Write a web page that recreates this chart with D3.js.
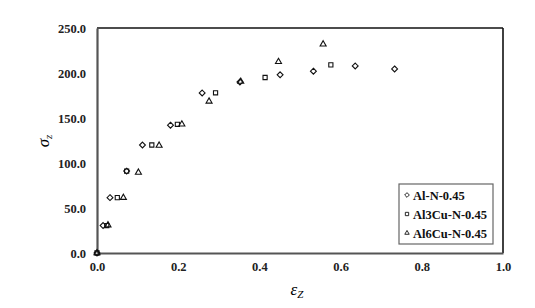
<!DOCTYPE html>
<html>
<head>
<meta charset="utf-8">
<script src="https://cdn.jsdelivr.net/npm/d3@7"></script>
<style>
  body { margin: 0; background: #fff; }
  text { font-family: "Liberation Serif", "Times New Roman", serif; }
  .tick-label { font-weight: bold; font-size: 12.5px; fill: #222; }
  .legend-label { font-weight: bold; font-size: 12.5px; fill: #111; }
</style>
</head>
<body>
<div id="chart"></div>
<script>
/* values: strain eps_z, stress sigma_z */
var seriesNames = ["Al-N-0.45", "Al3Cu-N-0.45", "Al6Cu-N-0.45"];
var seriesSymbols = ["diamond", "square", "triangle"];

var alX = [0, 0.015, 0.032, 0.073, 0.112, 0.181, 0.259, 0.352, 0.451, 0.533, 0.636, 0.733];
var alY = [0, 30.5, 61.5, 91, 120, 142, 177.8, 190, 198, 202, 207.8, 204.5];

var al3X = [0, 0.024, 0.050, 0.073, 0.135, 0.198, 0.292, 0.414, 0.576];
var al3Y = [0, 30.5, 61.5, 91, 120, 143, 178, 195, 209];

var al6X = [0, 0.027, 0.065, 0.102, 0.153, 0.209, 0.276, 0.354, 0.447, 0.557];
var al6Y = [0, 31, 61.5, 89.5, 119.5, 143, 168.5, 190.5, 212.5, 232];

var xTicks = [0, 0.2, 0.4, 0.6, 0.8, 1.0];
var yTicks = [0, 50, 100, 150, 200, 250];

var W = 535, H = 308;
var margin = {left: 97, top: 28, right: 32, bottom: 55};
var width = W - margin.left - margin.right,
    height = H - margin.top - margin.bottom;

var x = d3.scaleLinear().domain([0, 1]).range([0, width]),
    y = d3.scaleLinear().domain([0, 250]).range([height, 0]);

var svg = d3.select("#chart").append("svg")
    .attr("width", W)
    .attr("height", H);

var g = svg.append("g")
    .attr("transform", "translate(" + margin.left + "," + margin.top + ")");

/* frame: top/right black, left/bottom gray axes */
g.append("line").attr("x1", 0).attr("x2", width).attr("y1", 0).attr("y2", 0)
    .attr("stroke", "#111").attr("stroke-width", 1.6);
g.append("line").attr("x1", width).attr("x2", width).attr("y1", 0).attr("y2", height)
    .attr("stroke", "#111").attr("stroke-width", 1.6);

var xAxis = d3.axisBottom(x).tickValues(xTicks).tickSize(0).tickPadding(9)
    .tickFormat(d3.format(".1f"));
var yAxis = d3.axisLeft(y).tickValues(yTicks).tickSize(0).tickPadding(11)
    .tickFormat(d3.format(".1f"));

var gX = g.append("g")
    .attr("transform", "translate(0," + height + ")")
    .call(xAxis);
var gY = g.append("g").call(yAxis);

[gX, gY].forEach(function(a) {
  a.select(".domain").attr("stroke", "#555").attr("stroke-width", 2.2);
  a.selectAll(".tick text").attr("class", "tick-label").attr("font-size", null)
    .attr("font-family", null);
});
gX.select(".domain").raise();

/* axis titles */
svg.append("text")
    .attr("transform", "translate(297,295)")
    .attr("text-anchor", "middle")
    .style("font-style", "italic")
    .style("font-size", "17px")
    .html('ε<tspan font-size="11px" dy="3">Z</tspan>');

svg.append("text")
    .attr("transform", "translate(49,141) rotate(-90)")
    .attr("text-anchor", "middle")
    .style("font-style", "italic")
    .style("font-size", "17px")
    .html('σ<tspan font-size="11px" dy="3">z</tspan>');

function symbolPath(name, size) {
  var t = name === "diamond" ? d3.symbolDiamond2 :
          name === "square" ? d3.symbolSquare2 : d3.symbolTriangle2;
  return d3.symbol().type(t).size(size)();
}

var allSeries = [[alX, alY], [al3X, al3Y], [al6X, al6Y]];
allSeries.forEach(function(s, i) {
  var pts = s[0].map(function(v, j) { return {t: v, y: s[1][j]}; });
  g.append("g").selectAll("path")
      .data(pts)
    .enter().append("path")
      .attr("d", symbolPath(seriesSymbols[i], seriesSymbols[i] === "triangle" ? 26 : 22))
      .attr("transform", function(d) { return "translate(" + x(d.t) + "," + y(d.y) + ")"; })
      .attr("fill", "none")
      .attr("stroke", "#111")
      .attr("stroke-width", 1.1);
});

/* legend */
var leg = svg.append("g").attr("transform", "translate(399,184)");
leg.append("rect")
    .attr("width", 94).attr("height", 60)
    .attr("fill", "#fff").attr("stroke", "#666").attr("stroke-width", 1.2);
seriesNames.forEach(function(n, i) {
  var yy = 11 + i * 19;
  leg.append("path")
      .attr("d", symbolPath(seriesSymbols[i], 14))
      .attr("transform", "translate(8," + yy + ")")
      .attr("fill", "none").attr("stroke", "#111").attr("stroke-width", 0.9);
  leg.append("text")
      .attr("class", "legend-label")
      .attr("x", 14).attr("y", yy + 4.5)
      .text(n);
});
</script>
</body>
</html>
